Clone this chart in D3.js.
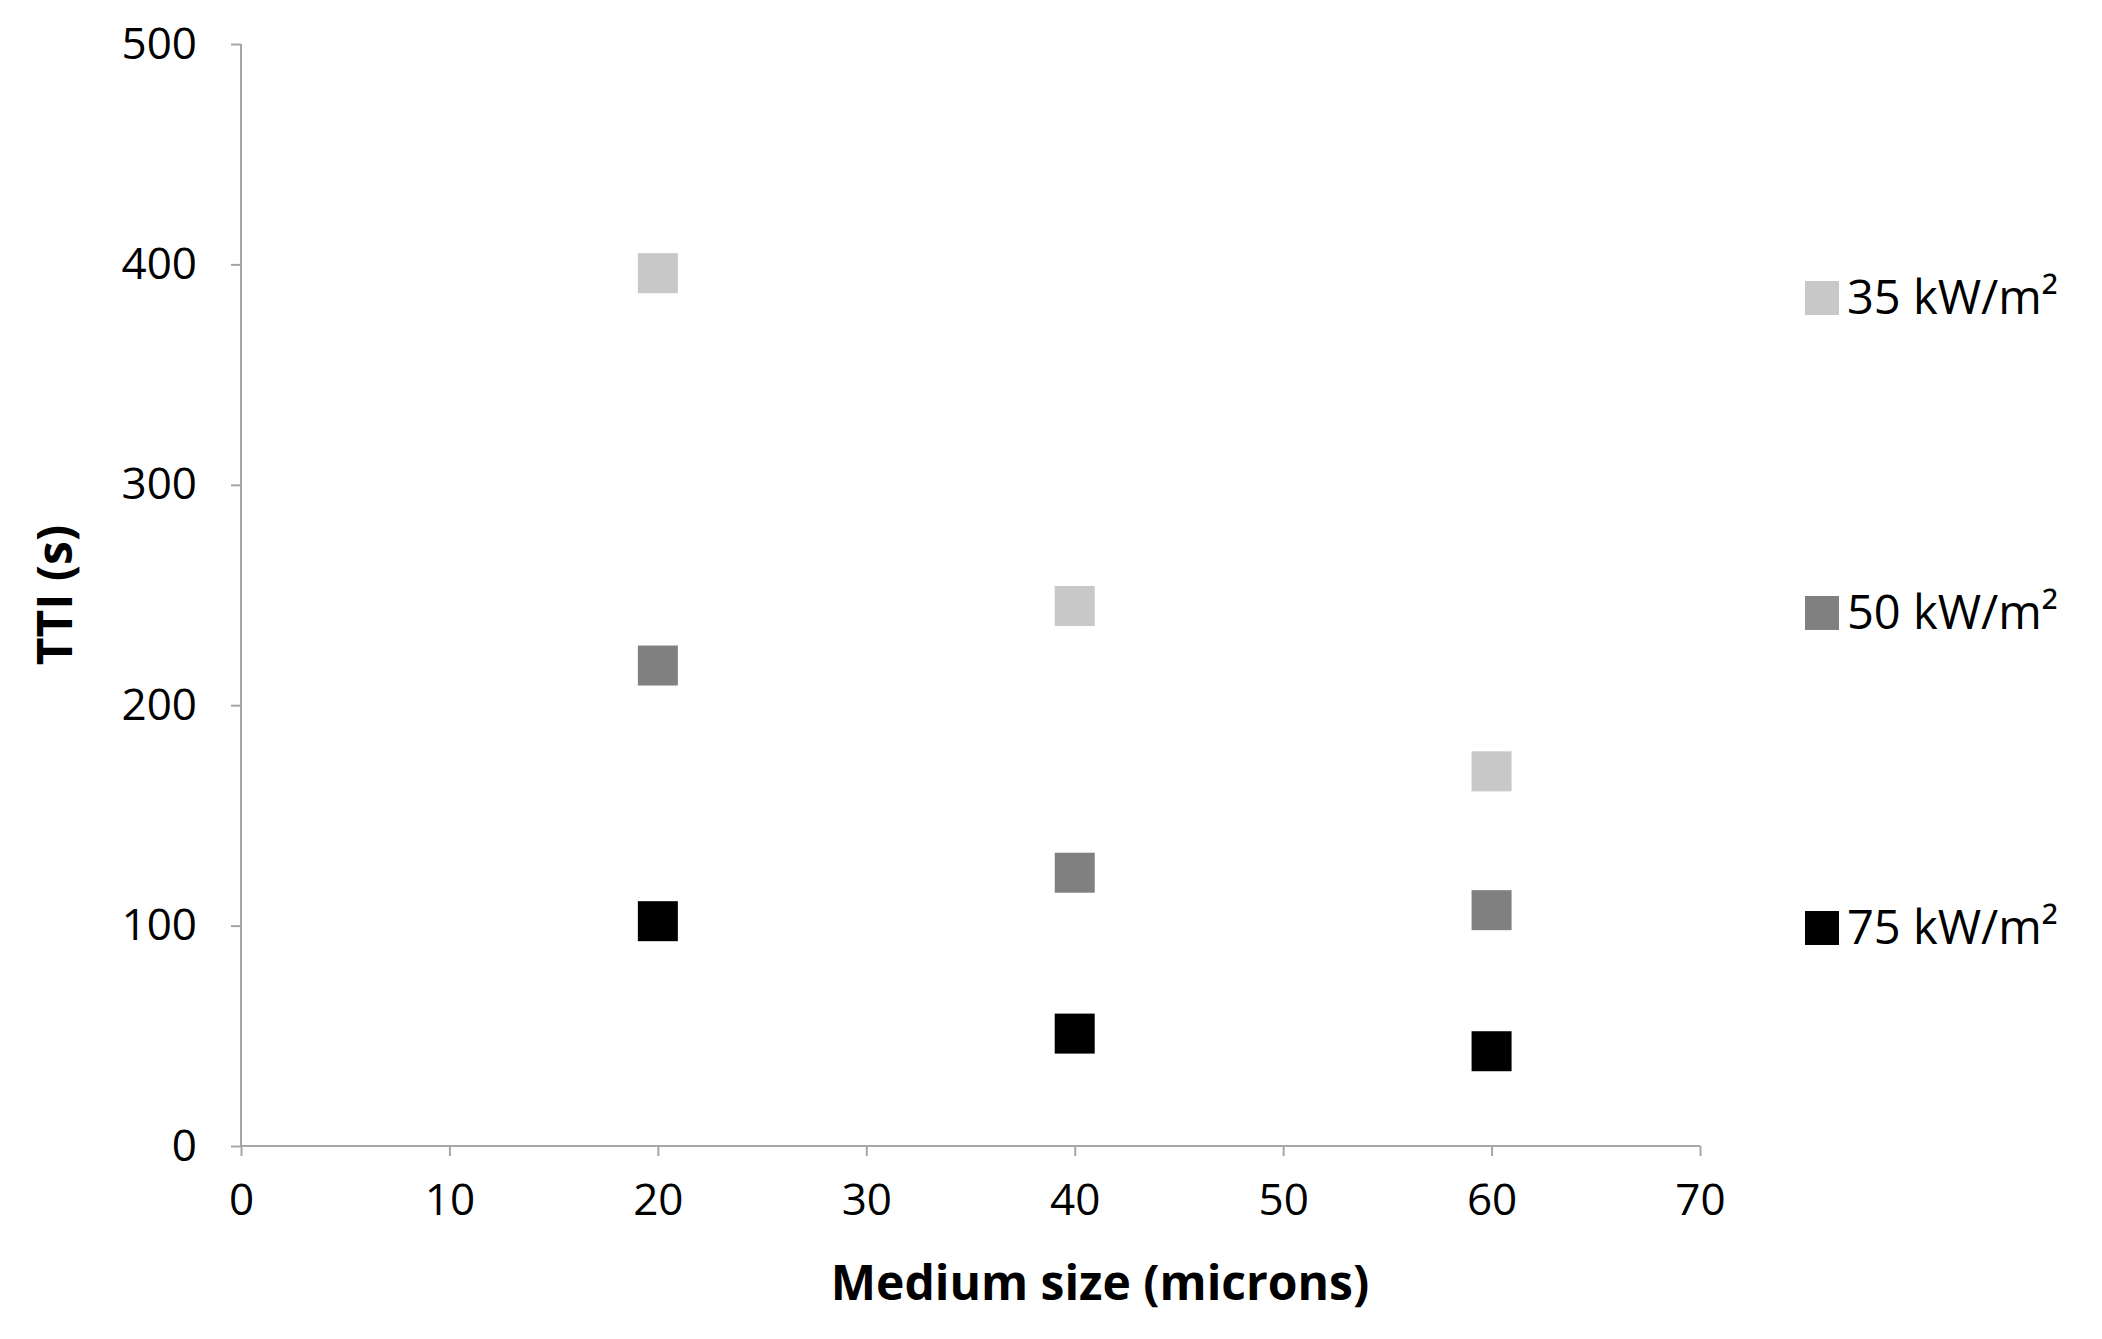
<!DOCTYPE html>
<html><head><meta charset="utf-8">
<script src="https://cdn.jsdelivr.net/npm/d3@7"></script>
<style>body{margin:0;background:#fff}text{font-family:"Open Sans",sans-serif}</style>
</head><body><svg id="chart" width="2102" height="1339"></svg>
<script>
const sizes = [20, 40, 60];
const tti35 = [396, 245, 170];
const tti50 = [218, 124, 107];
const tti75 = [102, 51, 43];
const seriesNames = ["35 kW/m²", "50 kW/m²", "75 kW/m²"];
const seriesColors = ["#c8c8c8", "#808080", "#000000"];
const xTicks = [0, 10, 20, 30, 40, 50, 60, 70];
const yTicks = [0, 100, 200, 300, 400, 500];

const svg = d3.select("#chart");
const x = d3.scaleLinear().domain([0, 70]).range([241, 1700]);
const y = d3.scaleLinear().domain([0, 500]).range([1146, 44]);

// axes
const xAxis = svg.append("g").attr("transform", `translate(0,${y(0)})`)
  .call(d3.axisBottom(x).tickValues(xTicks).tickSize(10).tickPadding(28));
const yAxis = svg.append("g").attr("transform", `translate(${x(0)},0)`)
  .call(d3.axisLeft(y).tickValues(yTicks).tickSize(10).tickPadding(34));
[xAxis, yAxis].forEach(g => {
  g.selectAll("path,line").attr("stroke", "#a6a6a6").attr("stroke-width", 2);
  g.selectAll("text").attr("font-size", 44).attr("fill", "#000");
});
xAxis.select(".domain").attr("d", `M${x(0)},0H${x(70)}`);
yAxis.select(".domain").attr("d", `M0,${y(0)}V${y(500)}`);
xAxis.selectAll(".tick line").attr("y2", 10);
yAxis.selectAll(".tick line").attr("x2", -10);

svg.append("text").attr("x", 1100).attr("y", 1300)
  .attr("text-anchor", "middle").attr("font-size", 48).attr("font-weight", "bold")
  .text("Medium size (microns)");
svg.append("text").attr("transform", `translate(72,${y(250)}) rotate(-90)`)
  .attr("text-anchor", "middle").attr("font-size", 48).attr("font-weight", "bold")
  .text("TTI (s)");

// markers
const series = [tti35, tti50, tti75];
const ms = 40;
series.forEach((vals, i) => {
  svg.append("g").selectAll("rect").data(vals).join("rect")
    .attr("x", (d, j) => x(sizes[j]) - ms / 2)
    .attr("y", d => y(d) - ms / 2)
    .attr("width", ms).attr("height", ms)
    .attr("fill", seriesColors[i]);
});

// legend
const legY = d3.scalePoint().domain(seriesNames).range([298, 928]);
const leg = svg.append("g").selectAll("g").data(seriesNames).join("g")
  .attr("transform", d => `translate(1805,${legY(d)})`);
leg.append("rect").attr("x", 0).attr("y", -17).attr("width", 34).attr("height", 34)
  .attr("fill", (d, i) => seriesColors[i]);
leg.append("text").attr("x", 42).attr("y", 0).attr("dy", "0.35em")
  .attr("font-size", 47).text(d => d);
</script></body></html>
